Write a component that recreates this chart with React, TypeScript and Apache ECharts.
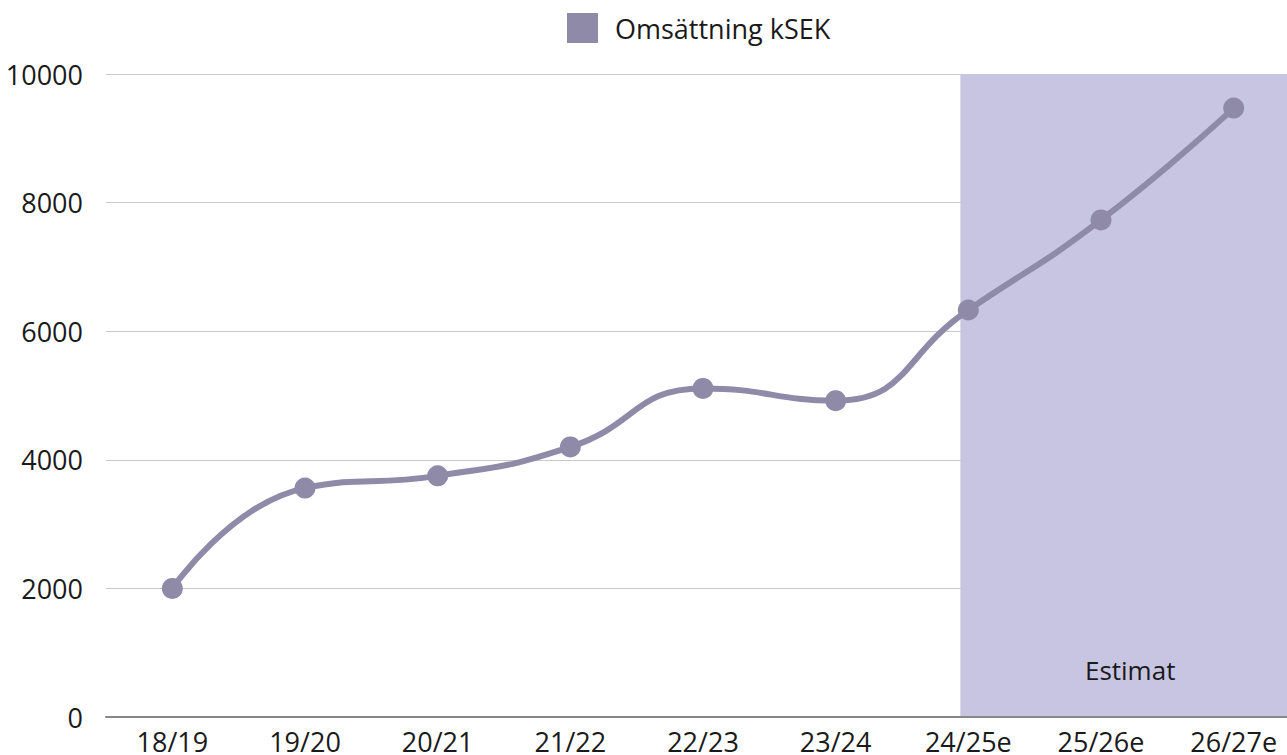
import React, { useEffect, useRef } from "react";
import * as echarts from "echarts";

const categories = ["18/19", "19/20", "20/21", "21/22", "22/23", "23/24", "24/25e", "25/26e", "26/27e"];
const revenue = [2000, 3560, 3750, 4200, 5110, 4920, 6330, 7730, 9470];
const seriesName = "Omsättning kSEK";
const estimateLabel = "Estimat";
const estimateStart = 6.44; // in category-band units from the left edge
const estimateEnd = 9;
const yTicks = { min: 0, max: 10000, interval: 2000 };

const FONT = "'Open Sans', 'Noto Sans', sans-serif";
const LINE = "#8e8aa8";
const SHADE = "#c8c5e3";
const FS = 27;

export default function App() {
  const ref = useRef<HTMLDivElement>(null);
  useEffect(() => {
    if (!ref.current) return;
    const chart = echarts.init(ref.current, undefined, { renderer: "svg" });
    chart.setOption({
      animation: false,
      textStyle: { fontFamily: FONT },
      legend: {
        top: 13,
        left: 567,
        icon: "rect",
        itemWidth: 31,
        itemHeight: 30,
        itemGap: 10,
        padding: 0,
        textStyle: { fontSize: FS, color: "#1a1a1a", fontFamily: FONT, padding: [0, 0, 0, 12] },
        data: [seriesName],
      },
      grid: { left: 106, right: 10, top: 74, bottom: 37, containLabel: false },
      xAxis: [
        {
          type: "category",
          data: categories,
          boundaryGap: true,
          axisLine: { show: true, lineStyle: { color: "#888", width: 2 } },
          axisTick: { show: false },
          axisLabel: { fontSize: FS, color: "#1a1a1a", margin: 11, fontFamily: FONT },
          z: 3,
        },
        {
          type: "value",
          min: 0,
          max: categories.length,
          show: false,
        },
      ],
      yAxis: {
        type: "value",
        min: yTicks.min,
        max: yTicks.max,
        interval: yTicks.interval,
        axisLine: { show: false },
        axisTick: { show: false },
        splitLine: { lineStyle: { color: "#c8c8c8", width: 1 } },
        axisLabel: {
          fontSize: FS,
          color: "#1a1a1a",
          margin: 23,
          fontFamily: FONT,
          formatter: (v: number) => String(v),
        },
      },
      series: [
        {
          name: "estimate",
          type: "line",
          xAxisIndex: 1,
          data: [],
          z: -1,
          silent: true,
          markArea: {
            silent: true,
            itemStyle: { color: SHADE },
            label: {
              show: true,
              position: "insideBottom",
              distance: 34,
              fontSize: FS - 1,
              color: "#1a1a1a",
              fontFamily: FONT,
            },
            data: [[{ name: estimateLabel, xAxis: estimateStart, yAxis: yTicks.max }, { xAxis: estimateEnd, yAxis: yTicks.min }]],
          },
        },
        {
          name: seriesName,
          type: "line",
          data: revenue,
          smooth: true,
          symbol: "circle",
          symbolSize: 21,
          z: 5,
          lineStyle: { color: LINE, width: 6 },
          itemStyle: { color: LINE },
        },
      ],
    });
    return () => chart.dispose();
  }, []);
  return (
    <div style={{ position: "fixed", left: 0, top: 0, width: 1287, height: 755, overflow: "hidden", background: "#fff" }}>
      <div ref={ref} style={{ width: 1310, height: 755 }} />
    </div>
  );
}
